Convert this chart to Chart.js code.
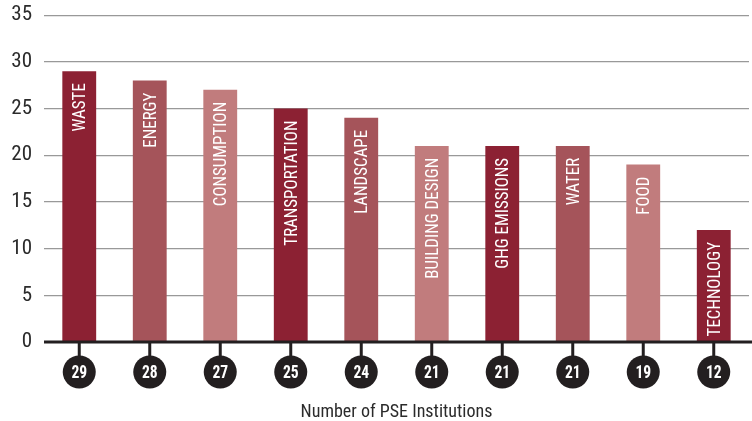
<!doctype html>
<html lang="en">
<head>
	<meta charset="utf-8">
	<title>PSE Institutions</title>
	<style>
		* { margin: 0; padding: 0; }
		body { background: #fff; }
		.chartBox { width: 752px; height: 421px; }
	</style>
</head>
<body>
	<div class="chartBox">
		<canvas id="topicChart"></canvas>
	</div>
	<script src="https://cdn.jsdelivr.net/npm/chart.js"></script>
	<script>
		const categories = ['WASTE', 'ENERGY', 'CONSUMPTION', 'TRANSPORTATION', 'LANDSCAPE', 'BUILDING DESIGN', 'GHG EMISSIONS', 'WATER', 'FOOD', 'TECHNOLOGY']
		const institutions = [29, 28, 27, 25, 24, 21, 21, 21, 19, 12]
		const yTicks = [0, 5, 10, 15, 20, 25, 30, 35]
		const palette = ['#8c2133', '#a5545a', '#c17c7d']

		const narrow = "'Roboto Condensed', sans-serif"
		const ctx = document.getElementById('topicChart')

		// labels inside bars + numbered circles under the axis
		const barDecor = {
			id: 'barDecor',
			afterDatasetsDraw(chart) {
				const c = chart.ctx
				const meta = chart.getDatasetMeta(0)
				const bottom = chart.chartArea.bottom
				meta.data.forEach((bar, i) => {
					// rotated label (squeezed a bit, the original face is narrower)
					c.save()
					c.translate(bar.x, bar.y + 12)
					c.rotate(-Math.PI / 2)
					c.scale(0.89, 1)
					c.fillStyle = '#fff'
					c.font = '19px ' + narrow
					c.textAlign = 'right'
					c.textBaseline = 'middle'
					c.fillText(categories[i], 0, 1)
					c.restore()

					// stem and circle
					c.save()
					c.strokeStyle = '#231f20'
					c.lineWidth = 3
					c.beginPath()
					c.moveTo(bar.x, bottom)
					c.lineTo(bar.x, bottom + 16)
					c.stroke()
					c.fillStyle = '#231f20'
					c.beginPath()
					c.arc(bar.x, bottom + 30, 16.5, 0, Math.PI * 2)
					c.fill()
					c.translate(bar.x, bottom + 31)
					c.scale(0.82, 1)
					c.fillStyle = '#fff'
					c.font = 'bold 19px ' + narrow
					c.textAlign = 'center'
					c.textBaseline = 'middle'
					c.fillText(String(institutions[i]), 0, 0)
					c.restore()
				})
				// baseline
				c.save()
				c.strokeStyle = '#231f20'
				c.lineWidth = 3
				c.beginPath()
				c.moveTo(chart.chartArea.left, bottom)
				c.lineTo(chart.width, bottom)
				c.stroke()
				c.restore()
			}
		}

		const config = {
			type: 'bar',
			data: {
				labels: categories,
				datasets: [{
					data: institutions,
					backgroundColor: institutions.map((v, i) => palette[i % 3]),
					categoryPercentage: 1,
					barPercentage: 0.48,
				}]
			},
			options: {
				responsive: true,
				maintainAspectRatio: false,
				animation: false,
				layout: {
					padding: { top: 0, right: 3, left: 0, bottom: 0 }
				},
				plugins: {
					legend: { display: false },
					tooltip: { enabled: false },
				},
				scales: {
					x: {
						grid: { display: false, drawTicks: false },
						border: { display: false },
						ticks: { display: false },
						title: {
							display: true,
							text: 'Number of PSE Institutions',
							color: '#2b2b2b',
							font: { family: narrow, size: 18, lineHeight: 1 },
							padding: { top: 61, bottom: 0 }
						}
					},
					y: {
						min: 0,
						max: 35,
						afterBuildTicks: (s) => { s.ticks = yTicks.map(v => ({ value: v })) },
						afterFit: (s) => { s.width = 44 },
						ticks: {
							color: '#2b2b2b',
							// small lineHeight keeps the top gap tight
							font: { family: narrow, size: 21, lineHeight: 0.3 },
							padding: 12,
						},
						grid: { color: '#999999', lineWidth: 1.2, drawTicks: false },
						border: { display: false },
					}
				}
			},
			plugins: [barDecor]
		}

		new Chart(ctx, config)
	</script>
</body>
</html>
